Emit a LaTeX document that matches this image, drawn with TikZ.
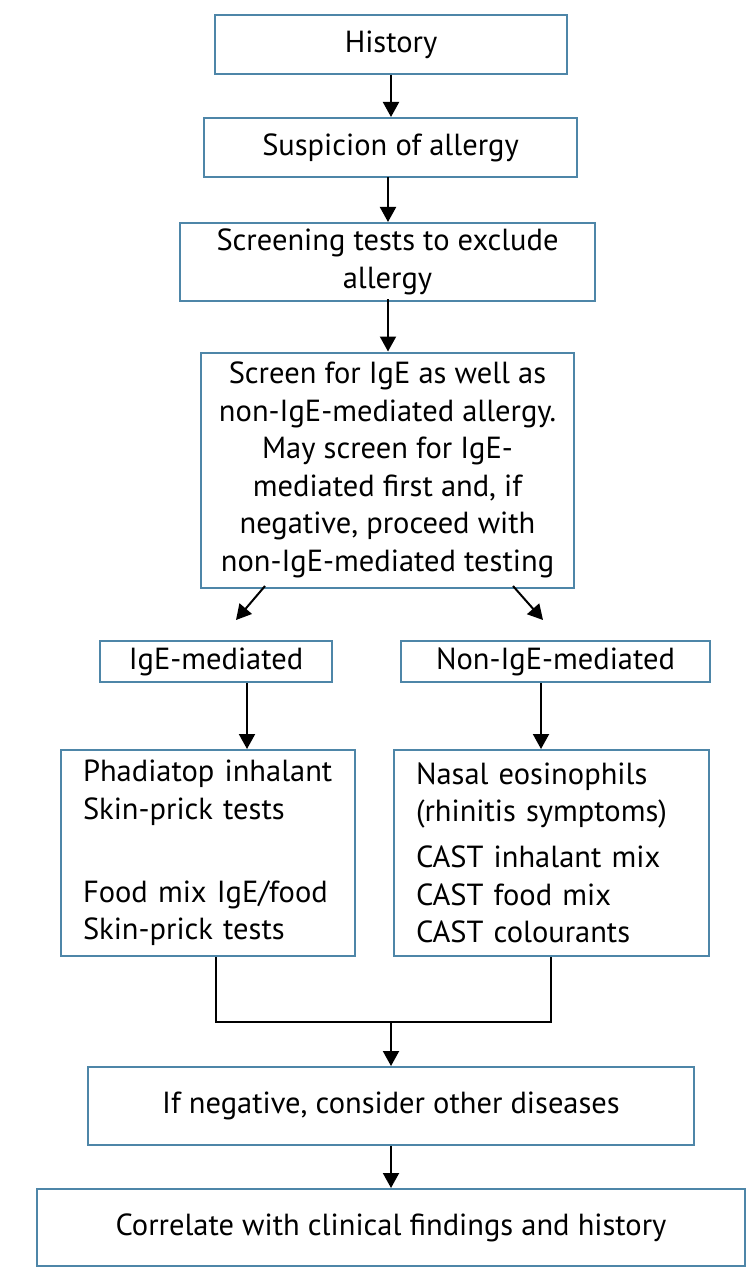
\documentclass[tikz,border=0pt]{standalone}
\usepackage{fontspec}
\setmainfont{PT Sans}
\usetikzlibrary{arrows.meta}
\definecolor{boxblue}{RGB}{78,134,168}
\begin{document}
\begin{tikzpicture}[
    x=1pt, y=-1pt,
    box/.style={draw=boxblue, line width=2pt, align=center, inner sep=0pt,
                font=\fontsize{30.5}{37.5}\selectfont},
    listbox/.style={box, align=left, inner xsep=22pt,
                    execute at begin node={\hyphenpenalty=10000\relax}},
    arr/.style={-{Triangle[length=15pt, width=16pt]}, line width=2pt},
    line/.style={line width=2pt}
  ]
    \useasboundingbox (0,0) rectangle (750,1281);
    \node[box, minimum width=352pt, minimum height=59pt] (history)   at (391,44.5)  {History};
    \node[box, minimum width=373pt, minimum height=59pt] (suspicion) at (390.5,147.5) {Suspicion of allergy};
    \node[box, minimum width=415pt, minimum height=78pt] (screening) at (387.5,262) {Screening tests to exclude\\allergy};
    \node[box, minimum width=373pt, minimum height=235pt] (screen)   at (387.5,470)
      {Screen for IgE as well as\\non-IgE-mediated allergy.\\May screen for IgE-\\mediated first and, if\\negative, proceed with\\non-IgE-mediated testing};
    \node[box, minimum width=232pt, minimum height=41pt] (ige)       at (216,661.5) {IgE-mediated};
    \node[box, minimum width=309pt, minimum height=41pt] (nonige)    at (555.5,661.5) {Non-IgE-mediated};
    \node[listbox, text width=250pt, minimum height=206pt] (igetests) at (208,853)
      {Phadiatop inhalant\\Skin-prick tests\\[45.5pt]Food mix IgE/food\\Skin-prick tests};
    \node[listbox, text width=271pt, minimum height=206pt] (nontests) at (551.5,853)
      {Nasal eosinophils\\(rhinitis symptoms)\\[8.5pt]CAST inhalant mix\\CAST food mix\\CAST colourants};
    \node[box, minimum width=606pt, minimum height=78pt] (negative)  at (391,1106) {If negative, consider other diseases};
    \node[box, minimum width=708pt, minimum height=77pt] (correlate) at (391,1227.5) {Correlate with clinical findings and history};
    \coordinate (join) at (391,1022);

    \draw[arr]  (history.south)   -- (suspicion.north -| history.south);
    \draw[arr]  (388,177) -- (screening.north -| 388,0);
    \draw[arr]  (388,299) -- (screen.north -| 388,0);
    \draw[arr]  (265,586) -- (236,620);
    \draw[arr]  (513,586) -- (543,620);
    \draw[arr]  (ige.south -| 247,0)    -- (igetests.north -| 247,0);
    \draw[arr]  (nonige.south -| 541,0) -- (nontests.north -| 541,0);
    \draw[line] (igetests.south -| 216,0) |- (join) -| (nontests.south -| 551,0);
    \draw[arr]  (join) -- (negative.north);
    \draw[arr]  (negative.south) -- (correlate.north);
  \end{tikzpicture}
\end{document}
